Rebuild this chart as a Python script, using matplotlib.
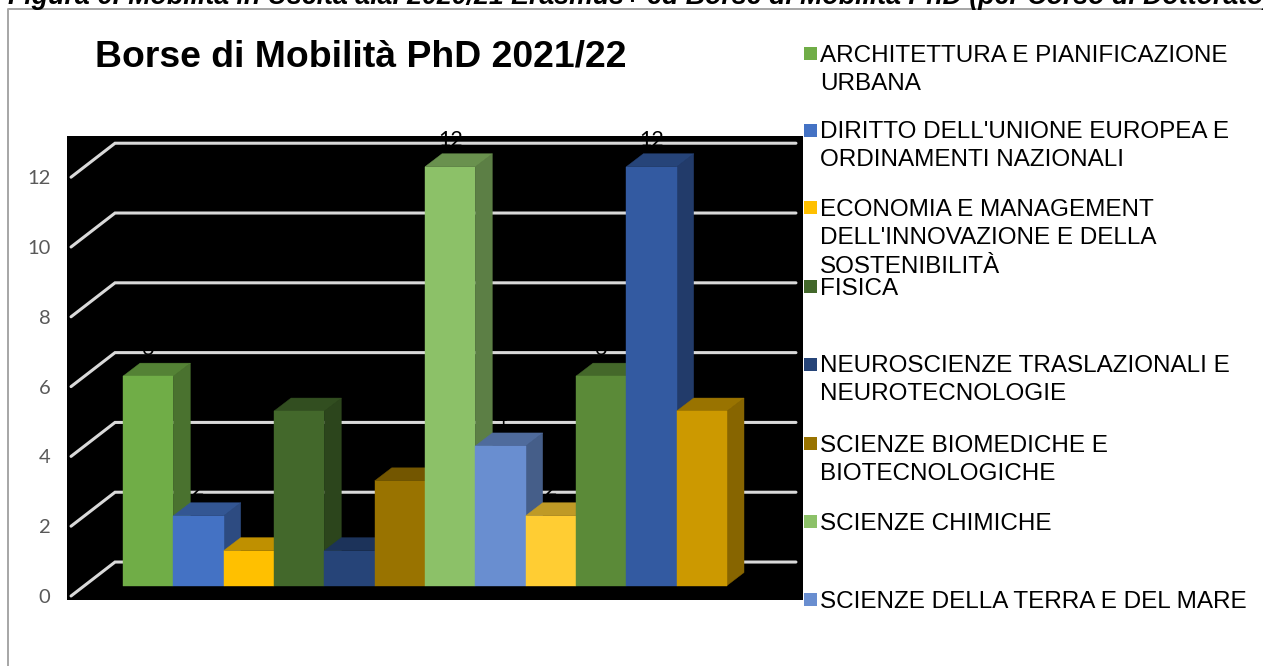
import matplotlib
matplotlib.use("Agg")
import matplotlib.pyplot as plt
from matplotlib.lines import Line2D
from matplotlib.patches import Polygon, Rectangle

W, H = 1263, 666

# Data
values = [6, 2, 1, 5, 1, 3, 12, 4, 2, 6, 12, 5]
front_colors = ["#70AD47", "#4472C4", "#FFC000", "#43682B", "#264478", "#997300",
                "#8CC168", "#698ED0", "#FFCD33", "#5B8A38", "#335AA1", "#CC9900"]
legend_names = ["ARCHITETTURA E PIANIFICAZIONE\nURBANA",
                "DIRITTO DELL'UNIONE EUROPEA E\nORDINAMENTI NAZIONALI",
                "ECONOMIA E MANAGEMENT\nDELL'INNOVAZIONE E DELLA\nSOSTENIBILITÀ",
                "FISICA",
                "NEUROSCIENZE TRASLAZIONALI E\nNEUROTECNOLOGIE",
                "SCIENZE BIOMEDICHE E\nBIOTECNOLOGICHE",
                "SCIENZE CHIMICHE",
                "SCIENZE DELLA TERRA E DEL MARE"]
legend_y = [53, 130, 208, 286.5, 364, 443.5, 521.5, 599.5]
y_ticks = [0, 2, 4, 6, 8, 10, 12]
title = "Borse di Mobilità PhD 2021/22"
caption = "Figura 6: Mobilità in Uscita a.a. 2020/21 Erasmus+ ed Borse di Mobilità PhD (per Corso di Dottorato)"

# 3D look, in data units
DEPTH_X = 0.338
DEPTH_Y = 0.372
WALL_Y = 0.673
FRONT_Y = -0.30


def shade(color, factor):
    rgb = matplotlib.colors.to_rgb(color)
    return tuple(c * factor for c in rgb)


def fx(px):
    return px / W


def fy(px):
    return 1 - px / H


def draw_bar(ax, i, value, color):
    x0, x1 = i, i + 1
    top = [(x0, value), (x1, value), (x1 + DEPTH_X, value + DEPTH_Y), (x0 + DEPTH_X, value + DEPTH_Y)]
    side = [(x1, 0), (x1 + DEPTH_X, DEPTH_Y), (x1 + DEPTH_X, value + DEPTH_Y), (x1, value)]
    side_c = shade(color, 0.66)
    top_c = shade(color, 0.75)
    ax.add_patch(Polygon(side, fc=side_c, ec=side_c, lw=0.3, zorder=3 + i))
    ax.add_patch(Polygon(top, fc=top_c, ec=top_c, lw=0.3, zorder=3 + i))
    ax.add_patch(Rectangle((x0, 0), 1, value, fc=color, ec=color, lw=0.3, zorder=3 + i))


fig = plt.figure(figsize=(W / 100, H / 100), dpi=100, facecolor="white")

ax = fig.add_axes([fx(67), fy(600), fx(803 - 67), (600 - 136) / H], facecolor="black")
ax.set_xlim(-1.113, 13.51)
ax.set_ylim(-0.415, 12.88)
for spine in ax.spines.values():
    spine.set_visible(False)
ax.set_xticks([])
ax.set_yticks([v + FRONT_Y for v in y_ticks])
ax.set_yticklabels([str(v) for v in y_ticks], family="Lato", fontsize=14.5, color="#595959")
ax.tick_params(axis="y", length=0, pad=12)

for v in y_ticks:
    ax.plot([-1.033, -0.159, 13.37], [v + FRONT_Y, v + WALL_Y, v + WALL_Y],
            color="#D9D9D9", lw=2.2, solid_capstyle="round", solid_joinstyle="miter", zorder=1)

for i, (value, color) in enumerate(zip(values, front_colors)):
    ax.text(i + 0.5, value + WALL_Y - 0.07, str(value), ha="center", va="baseline",
            family="Lato", fontsize=15.5, color="black", zorder=2)
    draw_bar(ax, i, value, color)

# Legend
for name, y, color in zip(legend_names, legend_y, front_colors):
    fig.add_artist(Rectangle((fx(804), fy(y + 6.5)), 13 / W, 13 / H, fc=color, ec="none",
                             transform=fig.transFigure))
    for k, line in enumerate(name.split("\n")):
        fig.text(fx(820), fy(y + 8.5 + 28 * k), line, family="Liberation Sans", fontsize=17.45,
                 color="black", va="baseline")

# Chart title and the cut-off caption above the frame
fig.text(fx(95), fy(66.5), title, family="Liberation Sans", fontweight="bold", fontsize=26.9,
         color="black", va="baseline")
fig.text(fx(8), fy(3.5), caption, family="Liberation Sans", fontweight="bold", style="italic",
         fontsize=19.3, color="black", va="baseline")

# Frame of the chart, open at the right and bottom
fig.add_artist(Line2D([fx(8), fx(8), 1], [0, fy(9), fy(9)], color="#A6A6A6", lw=1.4,
                      transform=fig.transFigure))

fig.savefig("out.png", dpi=100)
